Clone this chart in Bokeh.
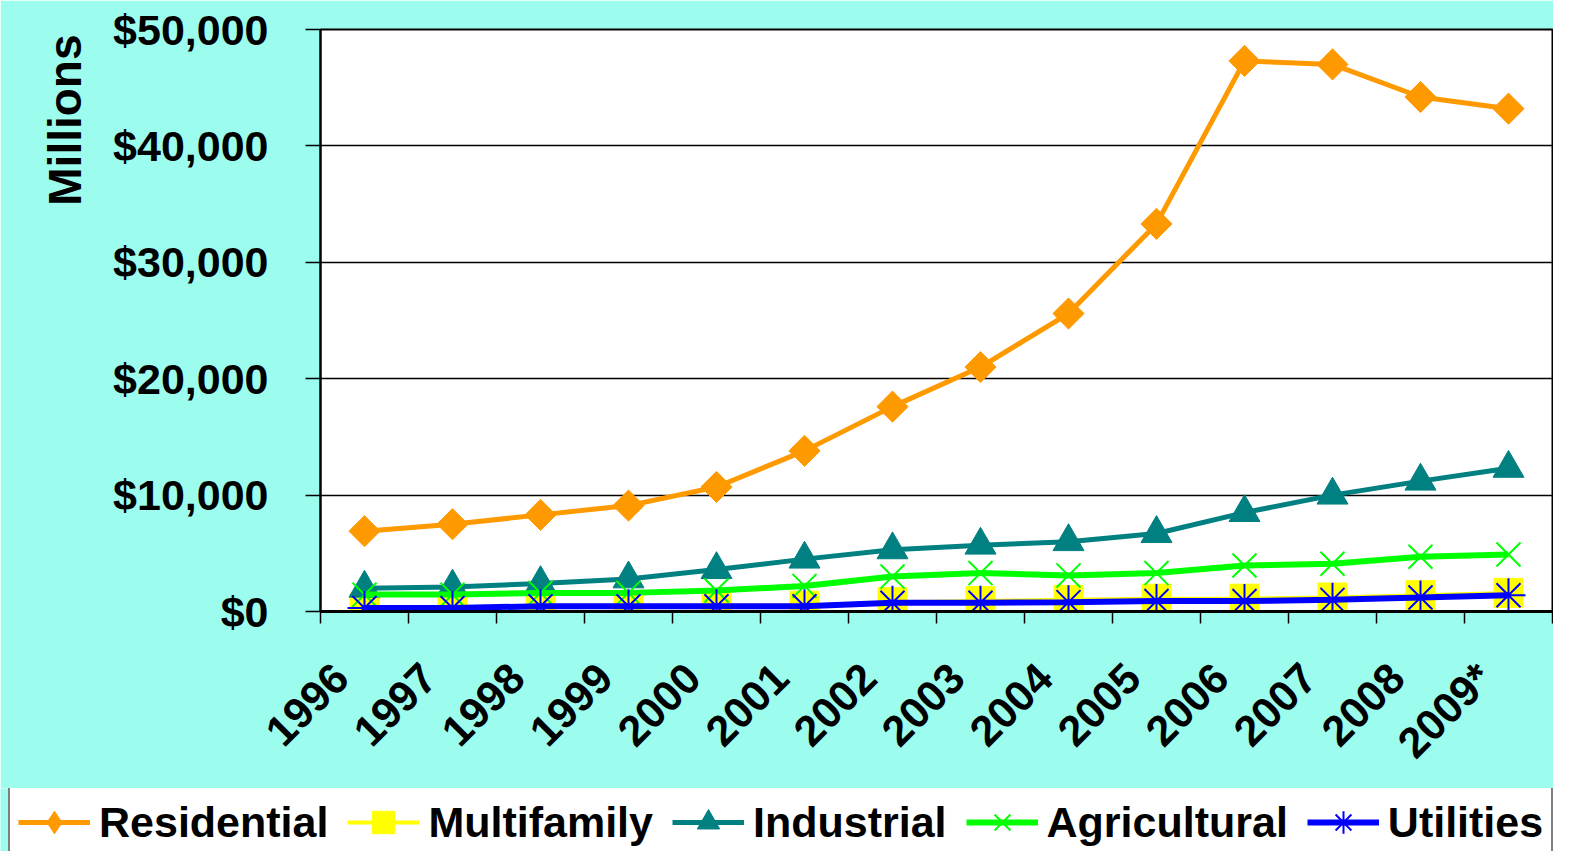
import math
from bokeh.plotting import figure
from bokeh.layouts import column
from bokeh.models import (FixedTicker, NumeralTickFormatter, CustomJSTickFormatter,
                          Legend, LegendItem, Range1d, Title)
from bokeh.embed import file_html
from bokeh.resources import INLINE

years = ["1996", "1997", "1998", "1999", "2000", "2001", "2002", "2003",
         "2004", "2005", "2006", "2007", "2008", "2009*"]
residential = [6900, 7500, 8300, 9100, 10700, 13800, 17600, 21000, 25600, 33300, 47300, 47000, 44200, 43200]
multifamily = [300, 300, 400, 400, 500, 500, 800, 900, 1000, 1100, 1100, 1200, 1400, 1600]
industrial = [2000, 2100, 2400, 2800, 3600, 4500, 5300, 5700, 6000, 6700, 8500, 10000, 11200, 12300]
agricultural = [1450, 1450, 1600, 1600, 1800, 2200, 3000, 3300, 3100, 3300, 3950, 4100, 4700, 4900]
utilities = [300, 300, 450, 450, 450, 450, 750, 750, 800, 900, 900, 1000, 1200, 1400]
y_ticks = [0, 10000, 20000, 30000, 40000, 50000]

FONT = "Liberation Sans"
FS = "43px"
BG = "#9CFDEF"

n = len(years)
xc = [i + 0.5 for i in range(n)]

p = figure(width=1553, height=788, output_backend="svg", toolbar_location=None,
           x_range=Range1d(0, n), y_range=Range1d(0, 50000),
           min_border_left=320, min_border_right=1, min_border_top=29,
           min_border_bottom=177)
p.frame_align = False
p.border_fill_color = BG
p.background_fill_color = "white"
p.outline_line_color = "black"
p.outline_line_width = 2

# grid
p.xgrid.visible = False
p.ygrid.grid_line_color = "black"
p.ygrid.grid_line_width = 1.5
p.ygrid.ticker = FixedTicker(ticks=y_ticks)

# y axis
ya = p.yaxis[0]
ya.ticker = FixedTicker(ticks=y_ticks)
ya.formatter = NumeralTickFormatter(format="$0,0")
ya.major_label_text_font = FONT
ya.major_label_text_font_style = "bold"
ya.major_label_text_font_size = FS
ya.major_label_text_color = "black"
ya.major_tick_out = 15
ya.major_tick_in = 0
ya.major_tick_line_width = 1.5
ya.minor_tick_line_color = None
ya.axis_line_width = 2
ya.major_label_standoff = 37

ytitle = Title(text="Millions", align="right", offset=5, standoff=40,
               text_font=FONT, text_font_style="bold", text_font_size="46px",
               text_color="black")
p.add_layout(ytitle, "left")

# x axis
off = 0.23
xa = p.xaxis[0]
xa.ticker = FixedTicker(ticks=[i + off for i in range(n)], minor_ticks=list(range(n + 1)))
xa.formatter = CustomJSTickFormatter(args=dict(labels=years),
                                     code="return labels[Math.floor(tick)]")
xa.major_label_orientation = math.pi / 4
xa.major_label_text_font = FONT
xa.major_label_text_font_style = "bold"
xa.major_label_text_font_size = FS
xa.major_label_text_color = "black"
xa.major_label_standoff = 47
xa.major_tick_line_color = None
xa.minor_tick_out = 12
xa.minor_tick_in = 0
xa.minor_tick_line_width = 1.5
xa.minor_tick_line_color = "black"
xa.axis_line_width = 3

series = [
    ("Residential", residential, "#FF9900", 5, dict(marker="square", size=22, angle=math.pi / 4)),
    ("Multifamily", multifamily, "#FFFF00", 4, dict(marker="square", size=29)),
    ("Industrial", industrial, "#008080", 5, dict(marker="triangle", size=31)),
    ("Agricultural", agricultural, "#00FF00", 6, dict(marker="x", size=34, line_width=2)),
    ("Utilities", utilities, "#0000FF", 6, dict(marker="asterisk", size=34, line_width=2)),
]
legend_markers = ["diamond", "square", "triangle", "x", "asterisk"]

# legend strip (separate figure so the legend is not clipped by the chart frame)
lg = figure(width=1553, height=63, output_backend="svg", toolbar_location=None,
            x_range=Range1d(0, 1), y_range=Range1d(0, 1),
            min_border=0, min_border_left=0, min_border_right=0,
            min_border_top=0, min_border_bottom=0)
lg.frame_align = False
lg.axis.visible = False
lg.grid.visible = False
lg.outline_line_color = None
lg.border_fill_color = BG
lg.background_fill_color = BG

items = []
for (name, ys, color, lw, mk), lmk in zip(series, legend_markers):
    p.line(xc, ys, line_color=color, line_width=lw)
    kw = dict(mk)
    kw.setdefault("line_width", 1)
    p.scatter(xc, ys, fill_color=color, line_color=color, **kw)
    # legend proxies, placed outside the legend strip's visible range
    l1 = lg.line([5, 6], [5, 5], line_color=color, line_width=lw)
    l2 = lg.scatter([5], [5], marker=lmk, size=20, fill_color=color, line_color=color,
                    line_width=kw["line_width"])
    items.append(LegendItem(label=name, renderers=[l1, l2]))

legend = Legend(items=items, orientation="horizontal", location=(8, -9))
legend.label_text_font = FONT
legend.label_text_font_style = "bold"
legend.label_text_font_size = FS
legend.label_text_color = "black"
legend.glyph_width = 72
legend.glyph_height = 56
legend.label_standoff = 9
legend.spacing = 19
legend.padding = 8
legend.margin = 0
legend.border_line_color = "black"
legend.border_line_width = 2
legend.background_fill_color = "white"
legend.background_fill_alpha = 1
lg.add_layout(legend, "center")

layout = column(p, lg, spacing=0)
open("out.html", "w").write(file_html(layout, INLINE))
